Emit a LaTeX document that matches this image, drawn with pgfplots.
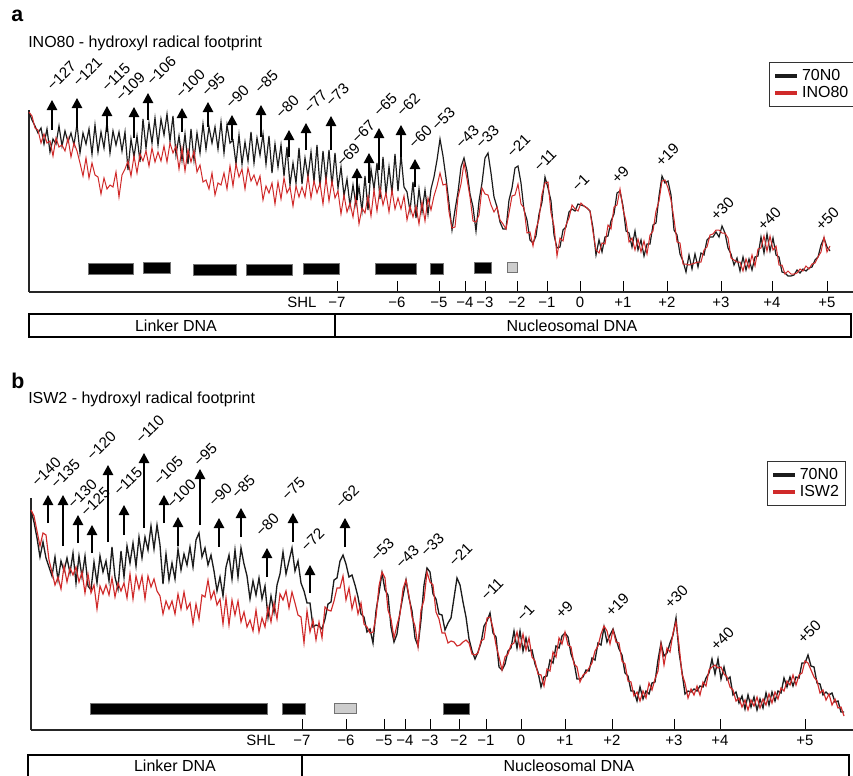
\documentclass[border=0pt]{standalone}
\usepackage{fontspec}
\setmainfont{Liberation Sans}
\usepackage{pgfplots}
\pgfplotsset{compat=1.18}
\usepackage{pgfplotstable}
\usetikzlibrary{arrows.meta}

\definecolor{trk}{RGB}{28,28,28}
\definecolor{trr}{RGB}{208,42,42}
\definecolor{boxg}{RGB}{205,205,205}

\newcommand\ttl{\fontsize{12}{14}\selectfont}
\newcommand\tkl{\fontsize{11.2}{13}\selectfont}
\newcommand\lbr{\fontsize{11.4}{13}\selectfont}
\newcommand\lgd{\fontsize{12}{14}\selectfont}

% image pixel coordinates, y measured downwards (plotted as -y)
\pgfplotstableread{
x k r
29 112 112
32 120 116
35 126 128
38 133 130
41 128 143
44 144 134
47 129 143
50 152 141
53 139 156
56 144 138
59 126 147
62 146 145
65 131 151
68 142 138
71 133 157
74 145 143
77 124 151
80 153 163
83 133 176
86 144 158
89 129 178
92 154 163
95 125 175
98 152 177
101 132 194
104 148 178
107 122 189
110 153 185
113 131 187
116 145 172
119 132 197
122 151 175
125 132 169
128 170 161
131 139 176
134 157 156
137 136 173
140 162 154
143 119 161
146 148 151
149 123 166
152 143 148
155 118 162
158 145 152
161 119 161
164 135 146
167 114 162
170 141 143
173 116 153
176 155 146
179 136 169
182 160 148
185 134 171
188 164 150
191 129 162
194 160 151
197 133 172
200 153 165
203 124 182
206 149 180
209 127 189
212 143 173
215 127 195
218 149 183
221 122 185
224 153 173
227 125 189
230 143 166
233 140 186
236 164 164
239 135 177
242 164 169
245 142 189
248 161 168
251 132 181
254 163 175
257 138 185
260 155 176
263 134 200
266 164 186
269 136 193
272 173 183
275 144 204
278 167 182
281 145 199
284 176 178
287 147 193
290 185 187
293 163 206
296 183 186
299 148 197
302 184 187
305 158 197
308 177 176
311 152 198
314 182 181
317 145 193
320 187 183
323 151 204
326 181 178
329 150 201
332 186 181
335 153 198
338 188 191
341 167 214
344 196 195
347 179 212
350 206 203
353 185 217
356 205 196
359 187 224
362 211 208
365 176 213
368 210 196
371 169 216
374 189 190
377 163 211
380 199 188
383 157 205
386 194 193
389 167 212
392 193 190
395 154 209
398 191 198
401 155 209
404 187 196
407 192 220
410 211 206
413 182 217
416 218 206
419 189 224
422 212 202
425 190 221
428 214 198
431 189 210
434 177 196
437 160 186
440 139 173
443 156 185
446 178 184
449 203 212
452 230 228
455 210 227
458 192 197
461 167 184
464 158 163
467 171 179
470 194 197
473 207 221
476 231 222
479 201 215
482 183 188
485 158 194
488 153 195
491 173 205
494 197 212
497 207 207
500 222 220
503 229 224
506 229 229
509 200 213
512 188 196
515 168 195
518 166 184
521 183 204
524 210 208
527 220 233
530 240 232
533 243 246
536 236 229
539 214 219
542 202 194
545 177 183
548 188 182
551 201 213
554 235 226
557 248 256
560 247 238
563 230 241
566 227 225
569 212 218
572 209 205
575 211 209
578 204 211
581 205 203
584 206 206
587 208 208
590 211 211
593 228 232
596 255 250
599 240 253
602 252 243
605 237 244
608 236 225
611 221 229
614 214 207
617 193 205
620 191 189
623 206 209
626 231 221
629 233 242
632 247 238
635 231 250
638 250 239
641 240 252
644 256 241
647 244 254
650 244 235
653 225 231
656 223 211
659 196 201
662 176 181
665 183 180
668 181 188
671 195 200
674 230 219
677 235 242
680 254 243
683 261 264
686 272 264
689 255 265
692 269 264
695 254 263
698 267 262
701 253 262
704 255 250
707 240 247
710 237 235
713 237 234
716 232 230
719 237 230
722 226 233
725 233 233
728 248 238
731 254 258
734 265 260
737 258 262
740 271 262
743 257 271
746 270 259
749 259 268
752 270 255
755 257 266
758 256 249
761 237 248
764 253 236
767 234 251
770 251 236
773 238 250
776 255 246
779 257 265
782 272 265
785 273 274
788 276 271
791 276 274
794 275 274
797 270 273
800 273 269
803 269 271
806 271 266
809 268 269
812 267 264
815 260 263
818 257 257
821 245 252
824 238 237
827 247 252
830 251 246
}\footA

\pgfplotstableread{
x k r
31 510 510
34 522 516
37 538 531
40 557 546
43 542 533
46 558 535
49 567 560
52 576 572
55 557 585
58 580 577
61 561 589
64 571 566
67 558 582
70 573 568
73 553 575
76 583 567
79 556 582
82 577 572
85 556 593
88 586 574
91 590 593
94 562 585
97 583 609
100 556 586
103 572 594
106 561 585
109 581 595
112 547 578
115 577 597
118 589 583
121 551 591
124 577 583
127 546 598
130 563 574
133 543 599
136 566 576
139 537 589
142 558 576
145 537 599
148 550 576
151 526 587
154 549 579
157 525 591
160 545 596
163 584 614
166 554 601
169 580 609
172 563 601
175 579 614
178 549 594
181 570 609
184 554 592
187 565 609
190 547 603
193 567 624
196 540 604
199 533 619
202 557 595
205 548 597
208 565 580
211 555 599
214 571 591
217 591 605
220 577 599
223 596 624
226 567 598
229 555 625
232 579 600
235 550 615
238 577 601
241 548 622
244 564 612
247 576 627
250 599 620
253 581 631
256 595 610
259 578 632
262 599 618
265 586 627
268 617 607
271 596 622
274 612 603
277 585 619
280 574 594
283 552 600
286 574 591
289 561 608
292 548 592
295 571 603
298 561 615
301 583 617
304 591 643
307 603 611
310 603 632
313 627 620
316 625 640
319 626 622
322 629 638
325 619 607
328 604 610
331 602 611
334 580 601
337 578 588
340 561 588
343 555 576
346 564 600
349 577 588
352 575 609
355 585 597
358 597 614
361 614 603
364 617 624
367 632 627
370 629 633
373 643 632
376 611 617
379 593 586
382 573 572
385 590 578
388 595 610
391 627 619
394 642 638
397 634 625
400 612 614
403 596 589
406 580 580
409 598 596
412 611 617
415 638 626
418 646 647
421 620 610
424 585 600
427 568 572
430 572 582
433 594 585
436 599 612
439 614 619
442 615 633
445 630 633
448 623 643
451 618 641
454 598 642
457 578 646
460 585 645
463 602 642
466 617 640
469 639 643
472 651 654
475 659 655
478 652 653
481 643 641
484 626 639
487 621 618
490 613 617
493 633 628
496 637 645
499 667 657
502 670 670
505 664 657
508 651 654
511 648 645
514 631 643
517 648 632
520 631 648
523 651 634
526 638 650
529 651 638
532 650 657
535 664 661
538 672 674
541 687 675
544 677 686
547 676 669
550 660 671
553 663 652
556 646 657
559 648 638
562 636 644
565 633 632
568 637 645
571 654 647
574 662 664
577 679 667
580 679 682
583 677 675
586 670 673
589 671 668
592 658 663
595 660 651
598 643 646
601 645 634
604 627 626
607 642 631
610 635 644
613 629 630
616 639 642
619 649 643
622 655 661
625 673 664
628 676 681
631 691 682
634 691 696
637 701 692
640 687 701
643 699 691
646 691 698
649 694 683
652 683 690
655 682 679
658 660 671
661 643 644
664 656 665
667 653 648
670 643 652
673 635 633
676 618 622
679 652 645
682 672 674
685 694 683
688 691 698
691 692 689
694 689 695
697 691 686
700 686 695
703 687 682
706 678 686
709 673 670
712 659 667
715 674 665
718 659 668
721 679 667
724 667 674
727 680 677
730 677 687
733 695 690
736 692 701
739 703 698
742 696 707
745 709 700
748 695 710
751 707 700
754 697 706
757 710 697
760 699 708
763 708 699
766 693 705
769 705 694
772 692 703
775 701 692
778 691 699
781 693 688
784 678 691
787 687 681
790 677 685
793 686 675
796 677 685
799 678 675
802 663 673
805 663 661
808 655 663
811 666 670
814 667 677
817 683 681
820 684 693
823 695 690
826 692 700
829 695 694
832 693 705
835 702 699
838 701 708
841 712 707
844 712 716
}\footB

\newcommand\lab[3]{\node[lab] at (axis cs:#1,-#2) {#3};}
\newcommand\arw[3]{\draw[arr] (axis cs:#1,-#2) -- (axis cs:#1,-#3);}
\newcommand\blk[5]{\addplot[fill=#5, draw=black!55, line width=0.4pt, forget plot]
  coordinates {(#1,-#3) (#2,-#3) (#2,-#4) (#1,-#4) (#1,-#3)};}

\tikzset{
  lab/.style={rotate=45, anchor=south west, inner sep=0pt, font=\lbr},
  arr/.style={-{Triangle[width=7.8pt,length=7.5pt]}, line width=1.1pt, black},
}

\pgfplotsset{
  fp/.style={
    scale only axis, clip=false,
    axis lines*=left,
    axis line style={line width=1.5pt, black!85},
    ytick=\empty,
    tick align=inside,
    major tick length=8.2pt,
    xtick style={black, line width=0.7pt},
    xticklabel style={font=\tkl, inner sep=1pt, yshift=-2.5pt},
    xticklabels={−7,−6,−5,−4,−3,−2,−1,0,+1,+2,+3,+4,+5},
    extra x tick style={major tick length=0pt},
    extra x tick labels={SHL},
    legend cell align=left,
    legend image code/.code={\draw[##1, line width=3pt] (0pt,0pt) -- (16.5pt,0pt);},
    legend style={anchor=north west, draw=black!80, line width=0.7pt,
      font=\lgd, inner sep=3pt, row sep=-1pt},
  },
}

\begin{document}
\begin{tikzpicture}
\path[use as bounding box] (0,0) rectangle (639.75pt,-581.25pt);

% ---------------- panel a: INO80 ----------------
\begin{axis}[fp,
  at={(21.75pt,-82.5pt)}, anchor=north west,
  width=618pt, height=136.5pt,
  xmin=29, xmax=853, ymin=-292, ymax=-110,
  xtick={337,397,439,465,485,517,547,580,623,667,721,772,827},
  extra x ticks={302},
  legend style={at={(0.898,1.264)}},
]
\addplot[trk, line width=0.9pt] table[x=x, y expr=-\thisrow{k}] {\footA};
\addplot[trr, line width=0.75pt] table[x=x, y expr=-\thisrow{r}] {\footA};
\legend{70N0,INO80}

\blk{88}{133}{263}{274}{black}
\blk{143}{170}{262}{273}{black}
\blk{193}{236}{264}{275}{black}
\blk{246}{292}{264}{275}{black}
\blk{303}{339}{263}{274}{black}
\blk{375}{416}{263}{274}{black}
\blk{430}{443}{263}{274}{black}
\blk{474}{491}{262}{273}{black}
\blk{507}{517}{262}{272}{boxg}

\arw{52}{130}{100}   \lab{53}{92}{−127}
\arw{77}{128}{98}    \lab{79}{88}{−121}
\arw{107}{132}{106}  \lab{108}{93}{−115}
\arw{134}{138}{107}  \lab{122}{103}{−109}
\arw{148}{120}{93}   \lab{153}{87}{−106}
\arw{182}{132}{108}  \lab{182}{100}{−100}
\arw{208}{127}{102}  \lab{208}{98}{−95}
\arw{232}{140}{115}  \lab{232}{110}{−90}
\arw{261}{137}{105}  \lab{261}{95}{−85}
\arw{289}{157}{130}  \lab{282}{120}{−80}
\arw{306}{150}{123}  \lab{310}{115}{−77}
\arw{331}{150}{116}  \lab{332}{108}{−73}
\arw{357}{200}{168}  \lab{343}{168}{−69}
\arw{369}{183}{153}  \lab{358}{145}{−67}
\arw{379}{170}{128}  \lab{380}{118}{−65}
\arw{401}{157}{125}  \lab{403}{118}{−62}
\arw{415}{187}{159}  \lab{415}{150}{−60}
\lab{438}{132}{−53}
\lab{462}{150}{−43}
\lab{482}{150}{−33}
\lab{513}{159}{−21}
\lab{540}{173}{−11}
\lab{578}{193}{−1}
\lab{618}{185}{+9}
\lab{662}{168}{+19}
\lab{717}{222}{+30}
\lab{764}{232}{+40}
\lab{822}{232}{+50}

\node[font={\fontsize{16}{18}\selectfont\bfseries}, anchor=west, inner sep=0pt] at (axis cs:11,-16) {a};
\node[font=\ttl, anchor=west, inner sep=0pt] at (axis cs:28,-43) {INO80 - hydroxyl radical footprint};

\draw[line width=0.8pt] (axis cs:29,-314) rectangle (axis cs:851,-337);
\draw[line width=0.8pt] (axis cs:335,-314) -- (axis cs:335,-337);
\node[font=\ttl, inner sep=0pt] at (axis cs:176,-326) {Linker DNA};
\node[font=\ttl, inner sep=0pt] at (axis cs:572,-326) {Nucleosomal DNA};
\end{axis}

% ---------------- panel b: ISW2 ----------------
\begin{axis}[fp,
  at={(23.25pt,-373.5pt)}, anchor=north west,
  width=616.5pt, height=174pt,
  xmin=31, xmax=853, ymin=-730, ymax=-498,
  xtick={302,346,384,405,430,459,486,521,565,612,674,720,805},
  extra x ticks={261},
  legend style={at={(0.895,1.159)}},
]
\addplot[trk, line width=1.0pt] table[x=x, y expr=-\thisrow{k}] {\footB};
\addplot[trr, line width=0.85pt] table[x=x, y expr=-\thisrow{r}] {\footB};
\legend{70N0,ISW2}

\blk{90}{267}{703}{714}{black}
\blk{282}{305}{703}{714}{black}
\blk{334}{356}{703}{713}{boxg}
\blk{443}{469}{703}{714}{black}

\arw{48}{523}{495}   \lab{38}{488}{−140}
\arw{63}{546}{495}   \lab{57}{490}{−135}
\arw{78}{543}{515}   \lab{74}{510}{−130}
\arw{92}{553}{525}   \lab{87}{518}{−125}
\arw{108}{542}{465}  \lab{93}{462}{−120}
\arw{124}{535}{505}  \lab{120}{497}{−115}
\arw{144}{528}{453}  \lab{142}{445}{−110}
\arw{164}{523}{495}  \lab{160}{487}{−105}
\arw{178}{546}{517}  \lab{173}{510}{−100}
\arw{200}{525}{469}  \lab{200}{468}{−95}
\arw{219}{547}{518}  \lab{215}{508}{−90}
\arw{241}{537}{508}  \lab{238}{500}{−85}
\arw{267}{577}{548}  \lab{262}{538}{−80}
\arw{293}{542}{513}  \lab{288}{502}{−75}
\arw{310}{593}{565}  \lab{307}{553}{−72}
\arw{345}{547}{518}  \lab{342}{510}{−62}
\lab{377}{563}{−53}
\lab{402}{570}{−43}
\lab{427}{558}{−33}
\lab{455}{568}{−21}
\lab{487}{602}{−11}
\lab{523}{623}{−1}
\lab{562}{620}{+9}
\lab{612}{618}{+19}
\lab{671}{610}{+30}
\lab{717}{652}{+40}
\lab{804}{645}{+50}

\node[font={\fontsize{16}{18}\selectfont\bfseries}, anchor=west, inner sep=0pt] at (axis cs:11,-381) {b};
\node[font=\ttl, anchor=west, inner sep=0pt] at (axis cs:28,-399) {ISW2 - hydroxyl radical footprint};

\draw[line width=0.8pt] (axis cs:28,-755) rectangle (axis cs:849,-790);
\draw[line width=0.8pt] (axis cs:302,-755) -- (axis cs:302,-790);
\node[font=\ttl, inner sep=0pt] at (axis cs:175,-766) {Linker DNA};
\node[font=\ttl, inner sep=0pt] at (axis cs:569,-766) {Nucleosomal DNA};
\end{axis}
\end{tikzpicture}
\end{document}
